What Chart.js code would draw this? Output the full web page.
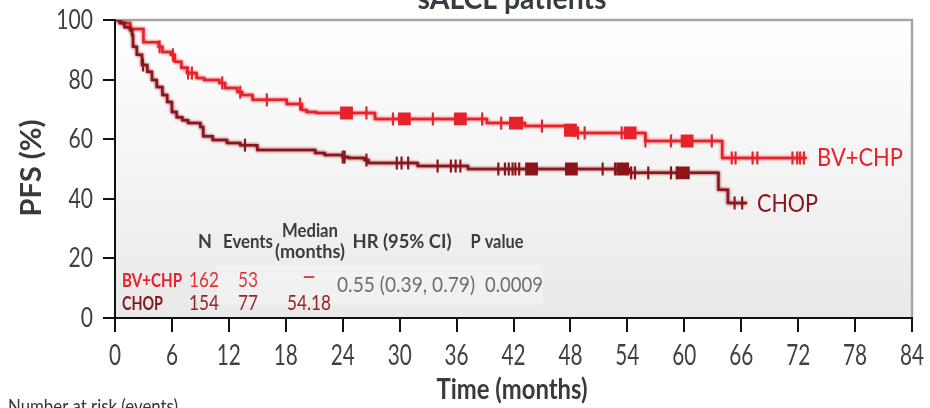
<!DOCTYPE html>
<html>
<head>
<meta charset="utf-8">
<script src="https://cdn.jsdelivr.net/npm/chart.js@4.4.1/dist/chart.umd.min.js"></script>
<style>
  html, body { margin: 0; padding: 0; background: #ffffff; overflow: hidden; }
  canvas { display: block; }
</style>
</head>
<body>
<canvas id="pfs" width="930" height="408" style="width:930px;height:408px"></canvas>
<script>
// Kaplan–Meier progression-free survival, sALCL patients
// Step curves: each entry is (time in months, PFS % from that time on)
const bvTimes  = [0, 0.5, 1.6, 3.0, 4.6, 5.0, 5.9, 6.3, 7.0, 7.6, 8.6, 9.4, 11.0, 11.6, 12.9, 13.4, 14.5, 18.1, 19.7, 20.2, 21.2, 27.4, 39.2, 43.2, 48.0, 48.6, 55.9, 64.0, 72.9];
const bvValues = [100, 99, 97, 92.5, 91, 89.3, 88.3, 86, 84, 82.2, 80.5, 79.9, 78.9, 77.2, 75.8, 74.8, 73.2, 71.8, 69.8, 69.1, 68.8, 66.8, 65.4, 64.4, 63.0, 62.1, 59.4, 53.7, 53.7];

const chopTimes  = [0, 0.6, 1.0, 1.6, 1.8, 1.9, 2.3, 2.85, 3.4, 3.9, 4.4, 5.0, 5.5, 6.0, 6.5, 7.1, 7.7, 9.0, 9.3, 10.3, 11.8, 13.2, 15.0, 21.1, 22.1, 24.0, 24.6, 26.3, 26.7, 31.9, 37.2, 54.18, 63.6, 64.6, 66.6];
const chopValues = [100, 99, 97.6, 96.6, 95, 91, 88.3, 84.9, 82.6, 79.9, 77.5, 74.8, 72.5, 69.1, 67.4, 66.4, 65.4, 64.1, 61, 59.7, 58.7, 58, 56.4, 55.4, 54.7, 54, 53.7, 53, 52, 51, 50, 48.7, 43, 38.6, 38.6];

// Censoring times (single ticks, and dense clusters shown as blocks)
const bvCensorTicks    = [4.7, 6.1, 7.7, 8.1, 11.3, 13.2, 16.0, 19.5, 26.5, 29.3, 33.5, 38.7, 40.7, 42.9, 45.0, 48.5, 48.8, 49.5, 53.4, 55.9, 58.6, 62.9, 65.0, 65.4, 67.2, 67.7, 71.4, 71.9, 72.2, 72.6];
const bvCensorBlocks   = [24.4, 30.5, 36.4, 42.2, 48.0, 54.3, 60.3];
const chopCensorTicks  = [2.95, 13.7, 24.0, 24.2, 26.5, 29.7, 30.2, 30.9, 34.0, 35.4, 35.9, 36.4, 40.4, 41.1, 41.5, 41.9, 42.2, 42.6, 51.4, 52.7, 54.4, 54.8, 56.2, 58.6, 59.2, 65.3, 66.1];
const chopCensorBlocks = [43.9, 48.1, 53.5, 59.9];

// Axis ticks
const xTicks = [0, 6, 12, 18, 24, 30, 36, 42, 48, 54, 60, 66, 72, 78, 84];
const yTicks = [0, 20, 40, 60, 80, 100];

// Summary table
const armNames    = ['BV+CHP', 'CHOP'];
const armN        = ['162', '154'];
const armEvents   = ['53', '77'];
const armMedians  = ['\u2013', '54.18'];
const hazardRatio = '0.55 (0.39, 0.79)';
const pValue      = '0.0009';
const tableHeads  = ['N', 'Events', 'Median', '(months)', 'HR (95% CI)', 'P value'];

const RED  = 'rgb(230,34,42)';
const DARK = 'rgb(138,22,26)';
const FONT = 'Lato, "Open Sans", sans-serif';

function toPoints(times, values) {
  return times.map((t, i) => ({ x: t, y: values[i] }));
}
function valueAt(times, values, t) {
  let v = values[0];
  for (let i = 0; i < times.length; i++) { if (times[i] <= t) v = values[i]; }
  return v;
}
function censorPoints(ticks, times, values) {
  return ticks.map(t => ({ x: t, y: valueAt(times, values, t) }));
}

// Draws condensed text: either squeezed by a fixed factor (sx) or fitted to a width
function text(ctx, str, x, y, o) {
  ctx.save();
  ctx.font = (o.weight || 'normal') + ' ' + o.size + 'px ' + FONT;
  const w = ctx.measureText(str).width;
  const sx = o.width ? o.width / w : (o.sx || 1);
  ctx.translate(x, y);
  if (o.rotate) ctx.rotate(o.rotate);
  ctx.scale(sx, 1);
  ctx.textAlign = o.align || 'left';
  ctx.textBaseline = 'alphabetic';
  ctx.fillStyle = o.color;
  ctx.fillText(str, 0, 0);
  ctx.restore();
}

const markerSet = (label, data, color, style, radius, order) => ({
  label, data, showLine: false, order,
  pointStyle: style, pointRadius: radius, pointRotation: style === 'line' ? 90 : 0,
  pointBorderColor: color, pointBackgroundColor: color, pointBorderWidth: 2.2,
  pointHoverRadius: radius
});

const plotBackground = {
  id: 'plotBackground',
  beforeDraw(chart) {
    const { ctx, chartArea: { left, top, right, bottom } } = chart;
    ctx.save();
    const g = ctx.createLinearGradient(0, top, 0, bottom);
    g.addColorStop(0, '#ffffff');
    g.addColorStop(1, '#e9e9e9');
    ctx.fillStyle = g;
    ctx.fillRect(left, top, right - left, bottom - top);
    ctx.strokeStyle = '#a6a6a6';
    ctx.lineWidth = 2.5;
    ctx.beginPath();
    ctx.moveTo(left, top);
    ctx.lineTo(right, top);
    ctx.lineTo(right, bottom);
    ctx.stroke();
    ctx.restore();
  }
};

const lineGlow = {
  id: 'lineGlow',
  beforeDatasetDraw(chart, args) {
    const ds = chart.data.datasets[args.index];
    if (!ds.showLine) return;
    chart.ctx.save();
    chart.ctx.shadowColor = ds.borderColor;
    chart.ctx.shadowBlur = 3;
  },
  afterDatasetDraw(chart, args) {
    const ds = chart.data.datasets[args.index];
    if (!ds.showLine) return;
    chart.ctx.restore();
  }
};

// Tick labels, axis titles, curve labels and the summary table
const annotations = {
  id: 'annotations',
  afterDraw(chart) {
    const ctx = chart.ctx;
    const xs = chart.scales.x, ys = chart.scales.y;
    const AX = '#404040';

    xTicks.forEach(v => text(ctx, String(v), xs.getPixelForValue(v), 365, { size: 28, sx: 0.74, align: 'center', color: AX }));
    yTicks.forEach(v => text(ctx, String(v), 93, ys.getPixelForValue(v) + 9, { size: 27, sx: 0.78, align: 'right', color: AX }));

    text(ctx, 'Time (months)', 512, 399, { size: 28, weight: 'bold', width: 151, align: 'center', color: '#3a3a3a' });
    text(ctx, 'PFS (%)', 41, 168, { size: 28, weight: 'bold', width: 97, align: 'center', color: '#3a3a3a', rotate: -Math.PI / 2 });

    // title (runs off the top edge)
    text(ctx, 'sALCL patients', 512, 9, { size: 30, weight: 'bold', width: 189, align: 'center', color: '#383d45' });
    // number-at-risk caption (runs off the bottom edge)
    text(ctx, 'Number at risk (events)', 8, 413, { size: 20, width: 170, color: '#333333' });

    // arm labels at the curve ends
    text(ctx, armNames[0], 817, 166, { size: 25, width: 86, color: RED });
    text(ctx, armNames[1], 757, 212, { size: 25, width: 61, color: DARK });

    // faint panel behind the comparison figures
    ctx.save();
    ctx.fillStyle = 'rgba(255,255,255,0.3)';
    ctx.fillRect(217, 265, 326, 40);
    ctx.restore();

    // summary table header
    const H = { size: 18, weight: 'bold', align: 'center', color: '#3c3c3c' };
    text(ctx, tableHeads[0], 205, 248, H);
    text(ctx, tableHeads[1], 248, 248, Object.assign({ width: 50 }, H));
    text(ctx, tableHeads[2], 310, 237, Object.assign({ width: 56 }, H));
    text(ctx, tableHeads[3], 310, 258, Object.assign({ width: 70 }, H));
    text(ctx, tableHeads[4], 402, 248, Object.assign({ width: 99 }, H));
    text(ctx, tableHeads[5], 497, 248, Object.assign({ width: 53 }, H));

    const rowBase = [287, 310];
    const rowColors = [RED, DARK];
    const numColors = ['rgb(228,52,58)', 'rgb(150,36,38)'];
    const nameWidths = [60, 41];
    for (let r = 0; r < 2; r++) {
      text(ctx, armNames[r], 122, rowBase[r], { size: 19, weight: 'bold', width: nameWidths[r], color: rowColors[r] });
      const N = { size: 21, align: 'center', color: numColors[r], sx: 0.82 };
      text(ctx, armN[r], 204, rowBase[r], N);
      text(ctx, armEvents[r], 248, rowBase[r], N);
      if (r === 0) text(ctx, armMedians[r], 309, rowBase[r] - 4, Object.assign({}, N, { sx: 1, width: 15, weight: 'bold' }));
      else text(ctx, armMedians[r], 309, rowBase[r], N);
    }
    text(ctx, hazardRatio, 337, 292, { size: 21, width: 138, color: '#6e6e6e' });
    text(ctx, pValue, 485, 292, { size: 21, width: 58, color: '#6e6e6e' });
  }
};

new Chart(document.getElementById('pfs'), {
  type: 'line',
  data: {
    datasets: [
      markerSet('BV+CHP censored', censorPoints(bvCensorTicks, bvTimes, bvValues), RED, 'line', 6.5, 1),
      markerSet('BV+CHP censored (clusters)', censorPoints(bvCensorBlocks, bvTimes, bvValues), RED, 'rect', 7.5, 1),
      markerSet('CHOP censored', censorPoints(chopCensorTicks, chopTimes, chopValues), DARK, 'line', 6.5, 1),
      markerSet('CHOP censored (clusters)', censorPoints(chopCensorBlocks, chopTimes, chopValues), DARK, 'rect', 7.5, 1),
      { label: 'CHOP', data: toPoints(chopTimes, chopValues), showLine: true, stepped: 'before',
        borderColor: DARK, borderWidth: 2.5, pointRadius: 0, fill: false, order: 2 },
      { label: 'BV+CHP', data: toPoints(bvTimes, bvValues), showLine: true, stepped: 'before',
        borderColor: RED, borderWidth: 2.5, pointRadius: 0, fill: false, order: 2 }
    ]
  },
  options: {
    responsive: false,
    animation: false,
    devicePixelRatio: 1,
    layout: { padding: { top: 20, right: 18, left: 0, bottom: 0 } },
    scales: {
      x: {
        type: 'linear', min: 0, max: 84,
        afterBuildTicks(scale) { scale.ticks = xTicks.map(v => ({ value: v })); },
        ticks: { display: false },
        grid: { drawOnChartArea: false, drawTicks: true, tickLength: 14, color: '#111111', lineWidth: 2 },
        border: { display: true, color: '#111111', width: 2 },
        afterFit(scale) { scale.height = 90; }
      },
      y: {
        type: 'linear', min: 0, max: 100,
        afterBuildTicks(scale) { scale.ticks = yTicks.map(v => ({ value: v })); },
        ticks: { display: false },
        grid: { drawOnChartArea: false, drawTicks: true, tickLength: 12, color: '#111111', lineWidth: 2 },
        border: { display: true, color: '#111111', width: 2 },
        afterFit(scale) { scale.width = 115; }
      }
    },
    plugins: { legend: { display: false }, tooltip: { enabled: false } }
  },
  plugins: [plotBackground, lineGlow, annotations]
});
</script>
</body>
</html>
